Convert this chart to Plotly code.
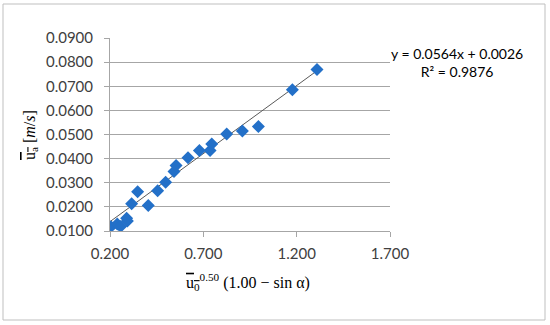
import plotly.graph_objects as go

# Data
x_vals = [0.205, 0.239, 0.257, 0.289, 0.293, 0.316, 0.348, 0.405, 0.455, 0.498,
          0.543, 0.554, 0.618, 0.679, 0.736, 0.745, 0.825, 0.909, 0.995, 1.177, 1.309]
y_vals = [0.0118, 0.0129, 0.0119, 0.0153, 0.0141, 0.0213, 0.0263, 0.0206, 0.0267, 0.0302,
          0.0347, 0.0371, 0.0404, 0.0434, 0.0434, 0.0461, 0.0502, 0.0515, 0.0533, 0.0685, 0.0769]
slope = 0.0564
intercept = 0.0026
r_squared = 0.9876
x_ticks = [0.2, 0.7, 1.2, 1.7]
y_ticks = [0.01, 0.02, 0.03, 0.04, 0.05, 0.06, 0.07, 0.08, 0.09]

W, H = 550, 325
ml, mr, mt, mb = 110, 160, 38, 94
pw, ph = W - ml - mr, H - mt - mb

trend_x = [0.2, max(x_vals)]
trend_y = [slope * v + intercept for v in trend_x]

fig = go.Figure()
fig.add_trace(go.Scatter(x=trend_x, y=trend_y, mode="lines",
                         line=dict(color="#595959", width=1), hoverinfo="skip"))
fig.add_trace(go.Scatter(x=x_vals, y=y_vals, mode="markers",
                         marker=dict(symbol="diamond", size=10, color="#2370C8",
                                     line=dict(width=0))))

tick_font = dict(family="Lato, Open Sans, sans-serif", size=15, color="#404040")
fig.update_xaxes(range=[0.2, 1.7], tickvals=x_ticks, ticktext=[f"{v:.3f}" for v in x_ticks],
                 showgrid=False, zeroline=False, showline=True, linecolor="#A6A6A6",
                 linewidth=1, ticks="outside", ticklen=5, tickcolor="#A6A6A6",
                 tickfont=tick_font, ticklabelstandoff=4)
fig.update_yaxes(range=[0.01, 0.09], tickvals=y_ticks, ticktext=[f"{v:.4f}" for v in y_ticks],
                 showgrid=True, gridcolor="#A6A6A6", gridwidth=1, zeroline=False,
                 showline=True, linecolor="#A6A6A6", linewidth=1, ticks="outside",
                 ticklen=5, tickcolor="#A6A6A6", tickfont=tick_font, ticklabelstandoff=8)

serif = dict(family="Liberation Serif, DejaVu Serif, serif", size=16, color="#000000")
ov = '<span style="text-decoration:overline">'
fig.add_annotation(xref="paper", yref="paper", x=(248 - ml) / pw, y=-(282 - (mt + ph)) / ph,
                   text=ov + "u<sub>0</sub></span><sup>0.50</sup> (1.00 \u2212 sin \u03b1)",
                   showarrow=False, font=serif, xanchor="center", yanchor="middle")
fig.add_annotation(xref="paper", yref="paper", x=-(ml - 30) / pw, y=(mt + ph - 135) / ph,
                   text=ov + "u<sub>a</sub></span> [<i>m</i>/<i>s</i>]", textangle=-90,
                   showarrow=False, font=serif, xanchor="center", yanchor="middle")
fig.add_annotation(xref="paper", yref="paper", x=(457 - ml) / pw, y=(mt + ph - 62) / ph,
                   text=f"y = {slope:.4f}x + {intercept:.4f}<br>R\u00b2 = {r_squared:.4f}",
                   showarrow=False, align="center",
                   font=dict(family="Lato, Open Sans, sans-serif", size=14, color="#000000"),
                   xanchor="center", yanchor="middle")

# chart border
fig.add_shape(type="rect", xref="paper", yref="paper",
              x0=(3 - ml) / pw, x1=(545 - ml) / pw,
              y0=(mt + ph - 320) / ph, y1=(mt + ph - 4) / ph,
              line=dict(color="#BFBFBF", width=1))

fig.update_layout(width=W, height=H, margin=dict(l=ml, r=mr, t=mt, b=mb),
                  paper_bgcolor="white", plot_bgcolor="white", showlegend=False)
fig.write_html("out.html", config={"displayModeBar": False},
               post_script="document.body.style.margin='0';document.body.style.padding='0';")
